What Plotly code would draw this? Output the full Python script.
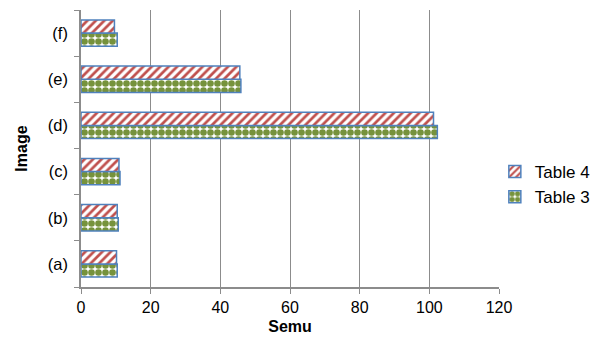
import plotly.graph_objects as go

categories = ["(a)", "(b)", "(c)", "(d)", "(e)", "(f)"]
table3 = [10.4, 10.7, 11.2, 102.3, 45.9, 10.4]
table4 = [10.2, 10.4, 10.9, 101.2, 45.6, 9.6]
x_ticks = [0, 20, 40, 60, 80, 100, 120]

fig = go.Figure()
fig.add_trace(go.Bar(
    y=categories, x=table3, orientation="h", name="Table 3", legendgroup="t3",
    marker=dict(color="white", line=dict(color="#4f81bd", width=1.5),
                pattern=dict(shape=".", fgcolor="#76923c", bgcolor="white",
                             size=7, solidity=0.7, fgopacity=1)),
))
fig.add_trace(go.Bar(
    y=categories, x=table4, orientation="h", name="Table 4", legendgroup="t4",
    marker=dict(color="white", line=dict(color="#4f81bd", width=1.5),
                pattern=dict(shape="/", fgcolor="#c0504d", bgcolor="white",
                             size=6, solidity=0.45, fgopacity=1)),
))

fig.update_layout(
    width=602, height=341,
    margin=dict(l=81, r=103, t=10, b=54, autoexpand=False),
    paper_bgcolor="white", plot_bgcolor="white",
    barmode="group", bargap=0.43, bargroupgap=0,
    font=dict(family="Liberation Sans, Arial, sans-serif", size=16, color="black"),
    legend=dict(xref="container", yref="container", x=0.822, y=0.459,
                xanchor="left", yanchor="middle", itemwidth=30,
                traceorder="reversed", tracegroupgap=12,
                font=dict(size=17)),
    xaxis=dict(range=[0, 120], tickvals=x_ticks, showgrid=True,
               gridcolor="#8c8c8c", gridwidth=1, showline=True,
               linecolor="#8c8c8c", linewidth=1.5, ticks="outside",
               tickcolor="#8c8c8c", ticklen=5, zeroline=False,
               tickfont=dict(size=16),
               title=dict(text="<b>Semu</b>", standoff=6, font=dict(size=16))),
    yaxis=dict(showline=True, linecolor="#8c8c8c", linewidth=1.5,
               ticks="outside", tickson="boundaries", tickcolor="#8c8c8c",
               ticklen=5, showgrid=False, ticklabelstandoff=8,
               tickfont=dict(size=16.5),
               title=dict(text="<b>Image</b>", standoff=16, font=dict(size=16))),
)

fig.write_html("out.html")
